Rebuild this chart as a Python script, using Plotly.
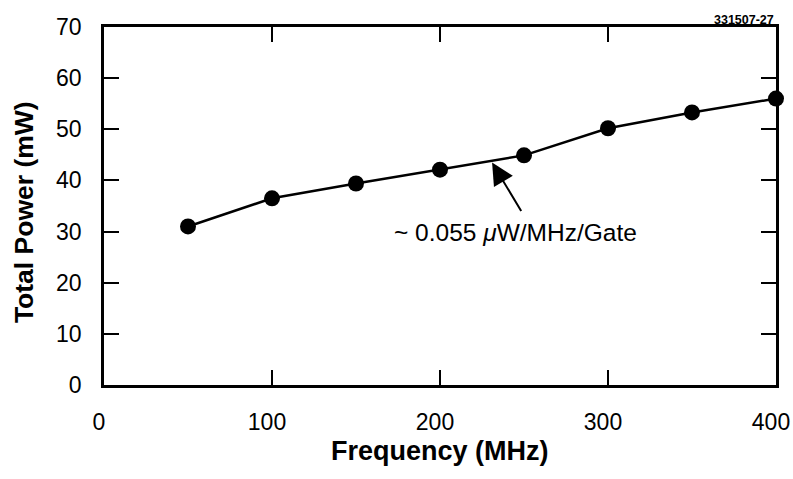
import plotly.graph_objects as go

# data
freq_mhz = [50, 100, 150, 200, 250, 300, 350, 400]
power_mw = [31.0, 36.5, 39.4, 42.1, 44.9, 50.2, 53.3, 56.0]

x_ticks = [0, 100, 200, 300, 400]
y_ticks = [0, 10, 20, 30, 40, 50, 60, 70]

note_text = "~ 0.055 <i>\u03bc</i>W/MHz/Gate"
arrow_x, arrow_y = 231, 43.5
note_x, note_y = 245, 29.9
fig_id = "331507-27"

font_family = "Liberation Sans, Arial, Helvetica, sans-serif"

fig = go.Figure()
fig.add_trace(go.Scatter(
    x=freq_mhz, y=power_mw, mode="lines+markers",
    line=dict(color="black", width=2.5),
    marker=dict(color="black", size=16),
    showlegend=False, cliponaxis=False,
))

axis_common = dict(
    showline=True, linecolor="black", linewidth=2.5, mirror="ticks",
    ticks="inside", ticklen=15, tickwidth=2, tickcolor="black",
    showgrid=False, zeroline=False, automargin=False, ticklabeloverflow="allow",
    tickfont=dict(size=23, color="black", family=font_family),
)

# labels sit a little left of their ticks in the original
fig.update_xaxes(range=[0, 400], tickvals=x_ticks, ticklabelstandoff=15,
                 ticklabelshift=-5, **axis_common)
fig.update_yaxes(range=[0, 70], tickvals=y_ticks, ticklabelstandoff=15, **axis_common)

# axis titles as annotations so they sit where the original puts them
fig.add_annotation(
    x=0.5, y=-0.184, xref="paper", yref="paper", yanchor="middle",
    text="<b>Frequency (MHz)</b>", showarrow=False,
    font=dict(size=27, color="black", family=font_family),
)
fig.add_annotation(
    x=-0.119, y=0.483, xref="paper", yref="paper", xanchor="center", yanchor="middle",
    text="<b>Total Power (mW)</b>", showarrow=False, textangle=-90,
    font=dict(size=26.5, color="black", family=font_family),
)

# arrow pointing at the curve
fig.add_annotation(
    x=arrow_x, y=arrow_y, ax=30, ay=50,
    showarrow=True, arrowhead=2, arrowsize=2.2, arrowwidth=2, arrowcolor="black",
    text="",
)
fig.add_annotation(
    x=note_x, y=note_y, text=note_text, showarrow=False,
    font=dict(size=24.5, color="black", family=font_family),
)
fig.add_annotation(
    x=1, y=1, xref="paper", yref="paper", xanchor="right", yanchor="bottom", yshift=-2,
    text="<b>" + fig_id + "</b>", showarrow=False,
    font=dict(size=12.5, color="black", family=font_family),
)

fig.update_layout(
    width=793, height=479,
    margin=dict(l=104, r=17, t=27, b=94),
    paper_bgcolor="white", plot_bgcolor="white",
    font=dict(family=font_family, color="black"),
)

# drop the page's default body margin so the figure sits at the window corner
fig.write_html("out.html", config={"displayModeBar": False},
               post_script="document.body.style.margin='0';")
